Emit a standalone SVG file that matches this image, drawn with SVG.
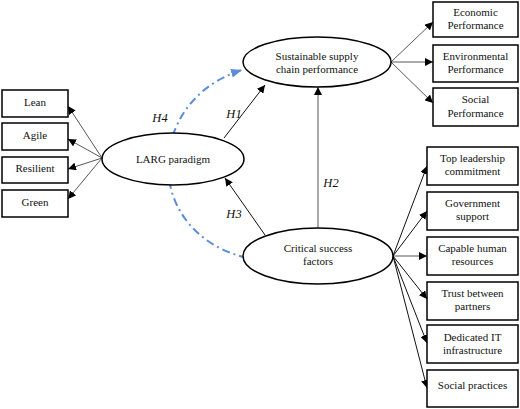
<svg xmlns="http://www.w3.org/2000/svg" width="520" height="409" viewBox="0 0 520 409">
<defs>
<marker id="ah" viewBox="0 0 10 10" refX="10" refY="5" markerWidth="8" markerHeight="8" markerUnits="userSpaceOnUse" orient="auto">
<path d="M0,0 L10,5 L0,10 z" fill="#000"/>
</marker>
<marker id="ahb" viewBox="0 0 10 10" refX="10" refY="5" markerWidth="11" markerHeight="11" markerUnits="userSpaceOnUse" orient="auto">
<path d="M0,1 L10,5 L0,9 z" fill="#5b8dd9"/>
</marker>
<style>
.box{fill:#fff;stroke:#000;stroke-width:1.5}
.ell{fill:#fff;stroke:#000;stroke-width:1.5}
text{font-family:"Liberation Serif","Times New Roman",Times,"DejaVu Serif",serif}
.t{font-size:11px;fill:#111;text-anchor:middle}
.h{font-size:12.5px;font-style:italic;fill:#111;text-anchor:middle}
.c{stroke:#444;stroke-width:0.9;fill:none;marker-end:url(#ah)}
.cb{stroke:#111;stroke-width:1;fill:none;marker-end:url(#ah)}
.blue{stroke:#5b8dd9;stroke-width:2;fill:none;stroke-dasharray:8 4 2 4;marker-end:url(#ahb)}
</style>
</defs>
<rect width="520" height="409" fill="#fff"/>
<g id="connectors">
<line class="c" x1="102" y1="158" x2="68" y2="106"/>
<line class="c" x1="102" y1="158" x2="68" y2="139"/>
<line class="c" x1="102" y1="158" x2="68" y2="169"/>
<line class="c" x1="102" y1="158" x2="68" y2="199"/>
<line class="c" x1="391" y1="62" x2="433" y2="22"/>
<line class="c" x1="391" y1="62" x2="433" y2="62"/>
<line class="c" x1="391" y1="62" x2="433" y2="103"/>
<line class="cb" x1="393" y1="256" x2="427" y2="166"/>
<line class="cb" x1="393" y1="256" x2="427" y2="211"/>
<line class="c" x1="393" y1="256" x2="427" y2="256"/>
<line class="cb" x1="393" y1="256" x2="427" y2="299"/>
<line class="cb" x1="393" y1="256" x2="427" y2="343"/>
<line class="cb" x1="393" y1="256" x2="427" y2="388"/>
<line class="cb" x1="224" y1="138" x2="265" y2="85"/>
<line class="c" x1="318" y1="228" x2="318" y2="87"/>
<line class="cb" x1="265" y1="235" x2="225" y2="178"/>
<path class="blue" d="M247,258 C140,232 145,100 242,70"/>
<text class="h" x="234" y="118">H1</text>
<text class="h" x="331" y="187">H2</text>
<text class="h" x="234" y="218">H3</text>
<text class="h" x="160" y="122">H4</text>
</g>
<g id="lean"><rect class="box" x="2" y="90" width="66" height="27"/><text class="t" x="35" y="106">Lean</text></g>
<g id="agile"><rect class="box" x="2" y="123" width="66" height="27"/><text class="t" x="35" y="139">Agile</text></g>
<g id="resilient"><rect class="box" x="2" y="157" width="66" height="26"/><text class="t" x="35" y="172">Resilient</text></g>
<g id="green"><rect class="box" x="2" y="190" width="66" height="27"/><text class="t" x="35" y="206">Green</text></g>
<g id="larg"><ellipse class="ell" cx="173" cy="159" rx="71" ry="26"/><text class="t" x="173" y="163">LARG paradigm</text></g>
<g id="sscp"><ellipse class="ell" cx="317" cy="62" rx="74" ry="25"/><text class="t" x="317" y="60">Sustainable supply</text><text class="t" x="317" y="73">chain performance</text></g>
<g id="csf"><ellipse class="ell" cx="318" cy="256" rx="75" ry="28"/><text class="t" x="318" y="252">Critical success</text><text class="t" x="318" y="265">factors</text></g>
<g id="economic"><rect class="box" x="433" y="2" width="85" height="35"/><text class="t" x="475.5" y="16">Economic</text><text class="t" x="475.5" y="29">Performance</text></g>
<g id="environmental"><rect class="box" x="433" y="45" width="85" height="37"/><text class="t" x="475.5" y="60">Environmental</text><text class="t" x="475.5" y="73">Performance</text></g>
<g id="social"><rect class="box" x="433" y="88" width="85" height="38"/><text class="t" x="475.5" y="103">Social</text><text class="t" x="475.5" y="117">Performance</text></g>
<g id="top"><rect class="box" x="427" y="147" width="91" height="38"/><text class="t" x="472.5" y="162">Top leadership</text><text class="t" x="472.5" y="175">commitment</text></g>
<g id="gov"><rect class="box" x="427" y="192" width="91" height="38"/><text class="t" x="472.5" y="207">Government</text><text class="t" x="472.5" y="220">support</text></g>
<g id="capable"><rect class="box" x="427" y="237" width="91" height="38"/><text class="t" x="472.5" y="252">Capable human</text><text class="t" x="472.5" y="265">resources</text></g>
<g id="trust"><rect class="box" x="427" y="282" width="91" height="38"/><text class="t" x="472.5" y="297">Trust between</text><text class="t" x="472.5" y="310">partners</text></g>
<g id="it"><rect class="box" x="427" y="325" width="91" height="38"/><text class="t" x="472.5" y="341">Dedicated IT</text><text class="t" x="472.5" y="354">infrastructure</text></g>
<g id="socialp"><rect class="box" x="427" y="370" width="91" height="37"/><text class="t" x="472.5" y="389">Social practices</text></g>
</svg>
